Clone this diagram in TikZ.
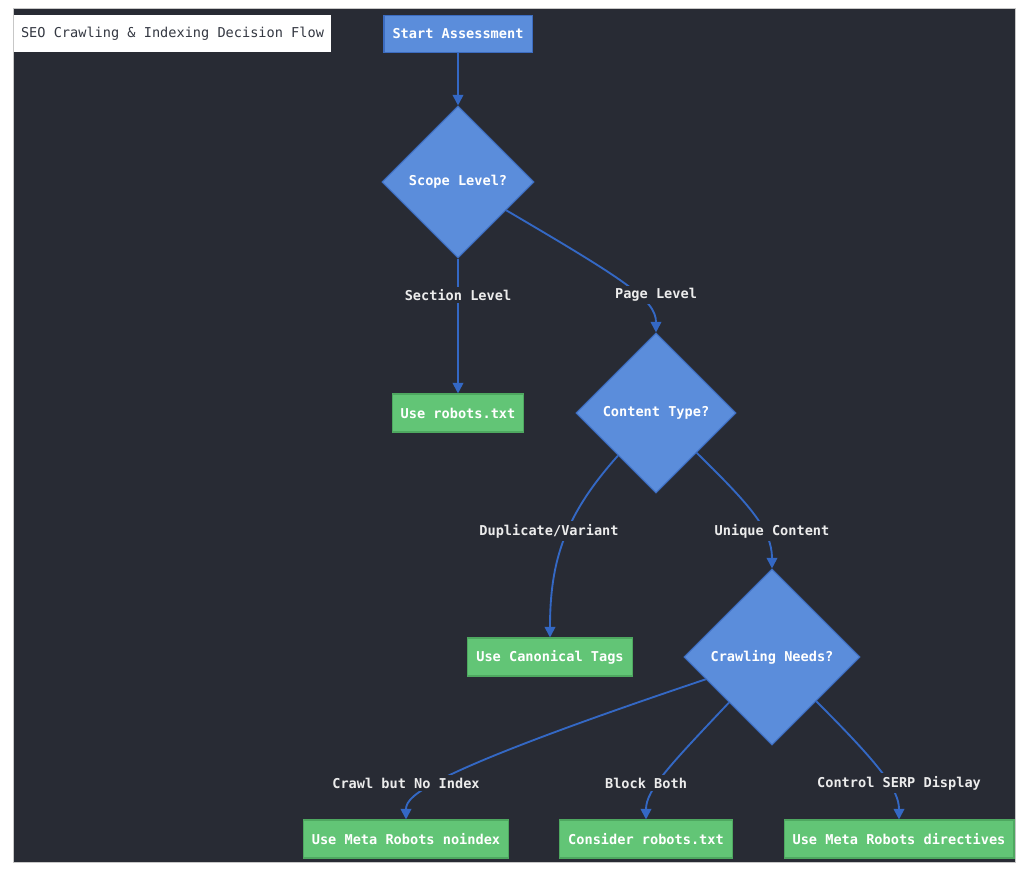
\documentclass[tikz,border=0pt]{standalone}
\usepackage{fontspec}
\setmonofont{DejaVu Sans Mono}
\usepackage{xcolor}
\definecolor{BgDark}{RGB}{40,43,52}
\definecolor{DecFill}{RGB}{91,141,219}
\definecolor{DecLine}{RGB}{60,108,192}
\definecolor{ActFill}{RGB}{98,197,118}
\definecolor{ActLine}{RGB}{78,168,96}
\definecolor{EdgeCol}{RGB}{52,104,196}
\definecolor{LblText}{RGB}{236,236,236}
\definecolor{TitleText}{RGB}{52,56,66}
\usepackage{tikz}
\usetikzlibrary{shapes}
\usetikzlibrary{arrows.meta}
\tikzstyle{Txt}=[font=\ttfamily\bfseries\fontsize{10.2}{12}\selectfont]
\tikzstyle{Decision}=[Txt,diamond,aspect=1,draw=DecLine,fill=DecFill,
line width=.8pt,inner sep=0pt,text=white]
\tikzstyle{Start}=[Txt,rectangle,draw=DecLine,fill=DecFill,line width=.8pt,
inner xsep=6.4pt,minimum height=27.75pt,text=white]
\tikzstyle{Action}=[Txt,rectangle,draw=ActLine,fill=ActFill,line width=.8pt,
inner xsep=6.4pt,minimum height=28.5pt,text=white]
\tikzstyle{Label}=[Txt,fill=BgDark,text=LblText,inner xsep=1pt,inner ysep=2pt]
\tikzstyle{Edge}=[draw=EdgeCol,line width=1.4pt,
-{Triangle[length=8pt,width=8pt]}]

\begin{document}
\begin{tikzpicture}[x=.75pt,y=-.75pt]
        \fill[white](0,0)rectangle(1024,873);
        \useasboundingbox(0,0)rectangle(1024,873);
        \draw[draw=black!22,fill=BgDark,line width=.75pt](13.5,8.5)rectangle(1015.5,862.5);
        % title
        \node[Txt,fill=white,text=TitleText,font=\ttfamily\fontsize{10.2}{12}\selectfont,
            minimum width=237.75pt,minimum height=27.75pt](title)at(172.5,33.5)
            {SEO Crawling \& Indexing Decision Flow};
        % decisions
        \node[Start](start)at(458,34){Start Assessment};
        \node[Decision,minimum width=114pt,minimum height=114pt](scope)at(458,182){Scope Level?};
        \node[Decision,minimum width=120pt,minimum height=120pt](ctype)at(656,413){Content Type?};
        \node[Decision,minimum width=132pt,minimum height=132pt](crawl)at(772,657){Crawling Needs?};
        % actions
        \node[Action](robots)at(458,413){Use robots.txt};
        \node[Action](canon)at(550,657){Use Canonical Tags};
        \node[Action](noindex)at(406,839){Use Meta Robots noindex};
        \node[Action](consider)at(646,839){Consider robots.txt};
        \node[Action](directives)at(899,839){Use Meta Robots directives};
        % edges
        \draw[Edge](start)--(scope);
        \draw[Edge](scope)--(robots);
        \draw[Edge](scope)..controls(625,280)and(656,300)..(ctype);
        \draw[Edge](ctype)..controls(565,515)and(550,560)..(canon);
        \draw[Edge](ctype)..controls(750,505)and(772,530)..(crawl);
        \draw[Edge](crawl)..controls(430,772)and(406,795)..(noindex);
        \draw[Edge](crawl)..controls(670,765)and(646,790)..(consider);
        \draw[Edge](crawl)..controls(880,765)and(899,790)..(directives);
        % edge labels
        \node[Label](lsec)at(458,295){Section Level};
        \node[Label](lpage)at(656,295){Page Level};
        \node[Label](ldup)at(549,531){Duplicate/Variant};
        \node[Label](luniq)at(772,531){Unique Content};
        \node[Label](lnoidx)at(406,783){Crawl but No Index};
        \node[Label](lblock)at(646,783){Block Both};
        \node[Label](lserp)at(899,783){Control SERP Display};
    \end{tikzpicture}
\end{document}
